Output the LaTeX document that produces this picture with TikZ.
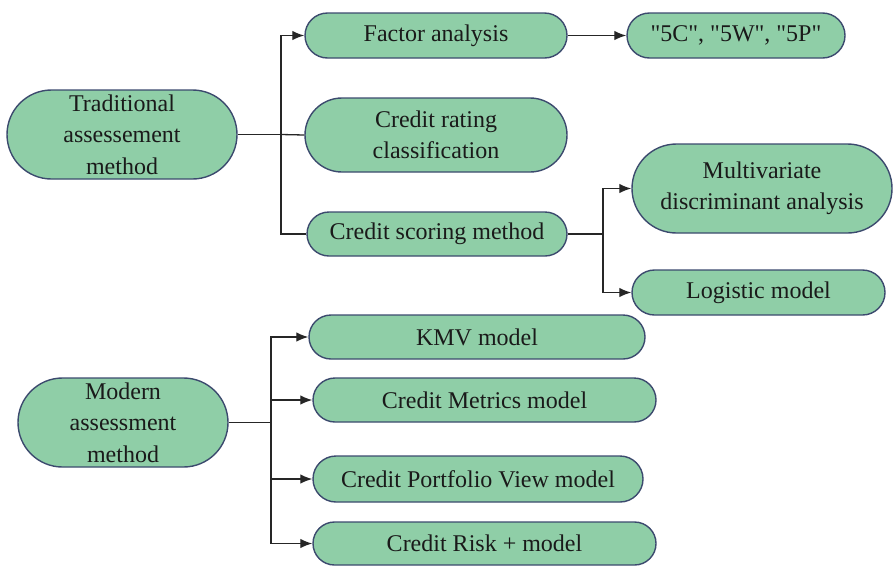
\documentclass[tikz,border=0pt]{standalone}
\usepackage{fontspec}
\setmainfont{Liberation Serif}
% same face without TeX ligature mapping, so " stays a straight quote
\newfontfamily\plainserif{Liberation Serif}
\usetikzlibrary{shapes.misc,arrows.meta}
\definecolor{boxfill}{HTML}{8FCEA7}
\definecolor{boxline}{HTML}{3C4A6E}
\definecolor{ink}{HTML}{1A1A1A}
\begin{document}
\begin{tikzpicture}[x=1pt,y=-1pt,
  pill/.style={rounded rectangle, draw=boxline, fill=boxfill, line width=1.4pt,
    text=ink, align=center, inner sep=0pt,
    font=\fontsize{24}{31.5}\selectfont},
  link/.style={draw=black!85, line width=1.3pt},
  arr/.style={link, -{Latex[length=12pt,width=9.5pt]}}]
\useasboundingbox (0,0) rectangle (893,571);

% traditional branch
\node[pill, minimum width=230pt, minimum height=89pt] (trad) at (122,134.5) {Traditional\\assessement\\method};
\node[pill, minimum width=262pt, minimum height=45pt] (fa) at (436,35.5) {Factor analysis};
\node[pill, minimum width=218pt, minimum height=45pt] (c5) at (736,35.5) {\plainserif "5C", "5W", "5P"};
\node[pill, minimum width=262pt, minimum height=74pt] (cr) at (436,135) {Credit rating\\classification};
\node[pill, minimum width=260pt, minimum height=44pt] (cs) at (437,234) {Credit scoring method};
\node[pill, minimum width=260pt, minimum height=89pt] (mda) at (762,188.5) {Multivariate\\discriminant analysis};
\node[pill, minimum width=253pt, minimum height=45pt] (lm) at (758.5,292.5) {Logistic model};

% modern branch
\node[pill, minimum width=210pt, minimum height=89pt] (mod) at (123,422.5) {Modern\\assessment\\method};
\node[pill, minimum width=336pt, minimum height=44pt] (kmv) at (477,337) {KMV model};
\node[pill, minimum width=343pt, minimum height=44pt] (cm) at (484.5,400) {Credit Metrics model};
\node[pill, minimum width=330pt, minimum height=46pt] (cpv) at (478,479) {Credit Portfolio View model};
\node[pill, minimum width=343pt, minimum height=43pt] (crp) at (484.5,543.5) {Credit Risk + model};

% junction points
\coordinate (j1) at (281,134.5);
\coordinate (j2) at (603,234);
\coordinate (j3) at (271,422.5);

% connectors
\draw[link] (trad.east) -- (j1);
\draw[arr] (j1) |- (fa.west);
\draw[link] (j1) -- (cr.west);
\draw[link] (j1) |- (cs.west);
\draw[arr] (fa.east) -- (c5.west);
\draw[link] (cs.east) -- (j2);
\draw[arr] (j2) |- (mda.west);
\draw[arr] (j2) |- (lm.west);
\draw[link] (mod.east) -- (j3);
\draw[arr] (j3) |- (kmv.west);
\draw[arr] (j3) |- (cm.west);
\draw[arr] (j3) |- (cpv.west);
\draw[arr] (j3) |- (crp.west);
\end{tikzpicture}
\end{document}
